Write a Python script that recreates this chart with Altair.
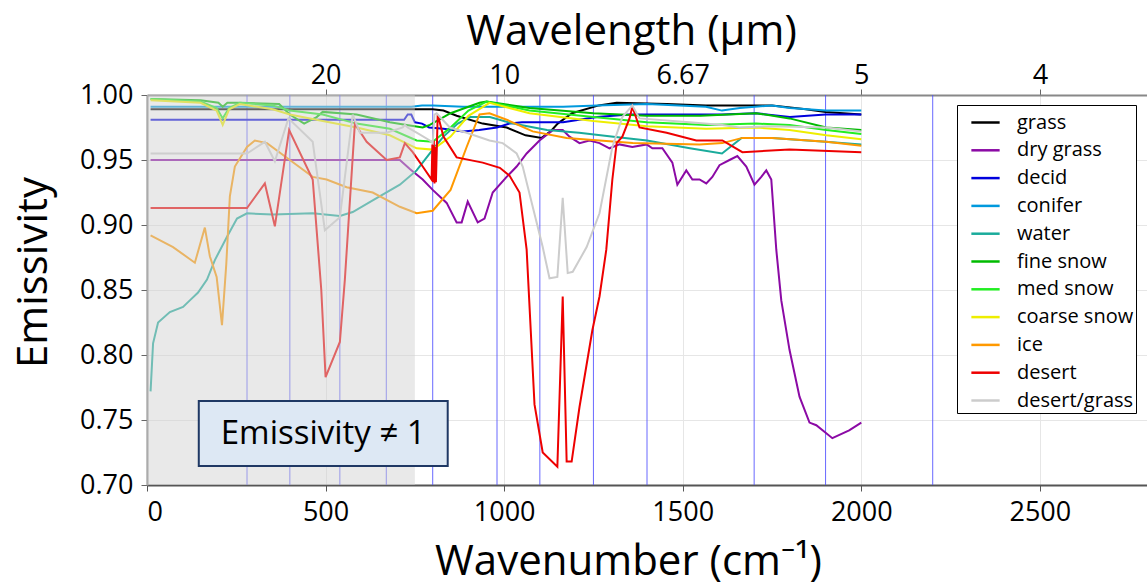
import altair as alt
import pandas as pd

FONT = "Open Sans"

names = ["grass", "dry grass", "decid", "conifer", "water", "fine snow",
         "med snow", "coarse snow", "ice", "desert", "desert/grass"]
colors = ["#000000", "#8B0AA5", "#0000DD", "#0099DD", "#1AAB9B", "#00BB00",
          "#22EE22", "#EEEE00", "#FF9900", "#EE0000", "#CCCCCC"]

grass_wn = [10, 700, 800, 830, 867, 940, 1007, 1060, 1105, 1130, 1150, 1190, 1265, 1315, 1455, 1565, 1690, 1750, 1845, 1900, 2000]
grass_em = [0.989, 0.989, 0.989, 0.988, 0.984, 0.978, 0.975, 0.969, 0.967, 0.972, 0.978, 0.986, 0.992, 0.994, 0.993, 0.992, 0.992, 0.992, 0.989, 0.987, 0.985]

dry_wn = [10, 708, 736, 772, 800, 839, 867, 881, 898, 926, 945, 968, 1007, 1035, 1063, 1099, 1136, 1164, 1183, 1211, 1239, 1267, 1295, 1323, 1359, 1399, 1415, 1443, 1471, 1485, 1510, 1527, 1547, 1566, 1583, 1603, 1631, 1653, 1678, 1701, 1720, 1734, 1748, 1762, 1776, 1799, 1827, 1855, 1874, 1919, 1966, 2000]
dry_em = [0.950, 0.950, 0.943, 0.935, 0.927, 0.917, 0.902, 0.902, 0.918, 0.902, 0.905, 0.925, 0.937, 0.945, 0.955, 0.965, 0.973, 0.973, 0.968, 0.963, 0.965, 0.963, 0.959, 0.962, 0.960, 0.962, 0.959, 0.959, 0.948, 0.931, 0.942, 0.935, 0.935, 0.932, 0.937, 0.946, 0.950, 0.953, 0.945, 0.931, 0.937, 0.942, 0.935, 0.881, 0.842, 0.804, 0.768, 0.748, 0.746, 0.736, 0.742, 0.748]

decid_wn = [10, 720, 730, 740, 750, 770, 790, 830, 885, 930, 980, 1015, 1050, 1100, 1165, 1210, 1260, 1350, 1500, 1610, 1705, 1800, 1900, 2000]
decid_em = [0.981, 0.981, 0.985, 0.985, 0.979, 0.978, 0.975, 0.974, 0.972, 0.973, 0.975, 0.978, 0.979, 0.979, 0.979, 0.981, 0.983, 0.985, 0.985, 0.985, 0.986, 0.983, 0.985, 0.985]

conifer_wn = [10, 740, 770, 800, 885, 1000, 1165, 1260, 1400, 1565, 1610, 1660, 1750, 1800, 1900, 2000]
conifer_em = [0.991, 0.991, 0.992, 0.992, 0.991, 0.991, 0.991, 0.992, 0.993, 0.991, 0.988, 0.990, 0.992, 0.990, 0.988, 0.988]

water_wn = [10, 17, 31, 64, 101, 120, 143, 168, 190, 224, 252, 280, 352, 464, 540, 576, 632, 708, 755, 800, 830, 870, 905, 960, 1025, 1120, 1210, 1300, 1400, 1520, 1610, 1665, 1750, 1900, 2000]
water_em = [0.772, 0.809, 0.825, 0.833, 0.837, 0.842, 0.848, 0.858, 0.873, 0.891, 0.905, 0.909, 0.908, 0.909, 0.907, 0.910, 0.919, 0.931, 0.942, 0.958, 0.968, 0.978, 0.983, 0.983, 0.978, 0.973, 0.971, 0.968, 0.965, 0.959, 0.955, 0.967, 0.967, 0.964, 0.962]

fine_wn = [10, 150, 200, 212, 225, 260, 370, 400, 440, 475, 492, 587, 680, 727, 772, 792, 850, 931, 951, 1071, 1250, 1399, 1550, 1706, 1799, 1902, 2000]
fine_em = [0.997, 0.996, 0.994, 0.991, 0.994, 0.994, 0.993, 0.985, 0.978, 0.983, 0.987, 0.985, 0.979, 0.977, 0.975, 0.977, 0.986, 0.994, 0.995, 0.990, 0.986, 0.984, 0.984, 0.986, 0.982, 0.975, 0.973]

med_wn = [10, 150, 195, 212, 230, 260, 352, 400, 492, 587, 680, 755, 800, 850, 900, 951, 1071, 1250, 1399, 1566, 1706, 1799, 1902, 2000]
med_em = [0.997, 0.995, 0.990, 0.982, 0.990, 0.994, 0.992, 0.988, 0.985, 0.978, 0.974, 0.965, 0.964, 0.975, 0.988, 0.995, 0.988, 0.983, 0.979, 0.977, 0.978, 0.977, 0.973, 0.970]

coarse_wn = [10, 150, 195, 212, 230, 260, 352, 400, 492, 587, 680, 755, 800, 850, 900, 959, 1071, 1250, 1399, 1566, 1706, 1799, 1902, 2000]
coarse_em = [0.996, 0.994, 0.988, 0.977, 0.989, 0.993, 0.989, 0.985, 0.980, 0.975, 0.969, 0.959, 0.958, 0.968, 0.984, 0.994, 0.986, 0.980, 0.976, 0.974, 0.975, 0.973, 0.969, 0.966]

ice_wn = [10, 73, 134, 162, 176, 195, 210, 222, 232, 246, 280, 302, 336, 400, 464, 503, 559, 632, 708, 755, 800, 850, 895, 931, 959, 1007, 1080, 1175, 1360, 1547, 1611, 1667, 1751, 1902, 2000]
ice_em = [0.892, 0.883, 0.871, 0.898, 0.876, 0.860, 0.823, 0.870, 0.922, 0.945, 0.960, 0.965, 0.963, 0.950, 0.937, 0.935, 0.929, 0.925, 0.914, 0.909, 0.911, 0.927, 0.960, 0.985, 0.986, 0.981, 0.972, 0.967, 0.963, 0.962, 0.963, 0.967, 0.967, 0.964, 0.961]

desert_wn = [10, 280, 330, 358, 398, 464, 488, 500, 540, 554, 582, 615, 671, 708, 722, 744, 772, 797, 799, 801, 803, 805, 807, 809, 814, 830, 867, 940, 988, 1015, 1043, 1063, 1085, 1108, 1149, 1164, 1175, 1189, 1211, 1247, 1267, 1286, 1303, 1315, 1331, 1351, 1359, 1379, 1455, 1538, 1611, 1667, 1799, 2000]
desert_em = [0.913, 0.913, 0.932, 0.899, 0.973, 0.935, 0.850, 0.783, 0.810, 0.858, 0.978, 0.964, 0.950, 0.952, 0.963, 0.956, 0.945, 0.935, 0.962, 0.933, 0.965, 0.932, 0.960, 0.933, 0.985, 0.968, 0.952, 0.948, 0.944, 0.938, 0.925, 0.881, 0.762, 0.725, 0.714, 0.845, 0.718, 0.718, 0.760, 0.819, 0.845, 0.881, 0.935, 0.963, 0.968, 0.982, 0.991, 0.975, 0.971, 0.965, 0.965, 0.956, 0.958, 0.956]

dg_wn = [10, 280, 330, 358, 396, 464, 498, 540, 576, 596, 671, 716, 722, 730, 755, 792, 800, 805, 811, 848, 895, 959, 996, 1035, 1052, 1080, 1108, 1127, 1149, 1164, 1178, 1192, 1231, 1267, 1303, 1331, 1359, 1379, 1519, 1611, 1659, 1751, 1902, 2000]
dg_em = [0.955, 0.955, 0.964, 0.949, 0.982, 0.964, 0.896, 0.906, 0.985, 0.971, 0.971, 0.975, 0.977, 0.975, 0.971, 0.965, 0.963, 0.985, 0.986, 0.975, 0.971, 0.965, 0.963, 0.955, 0.945, 0.914, 0.883, 0.859, 0.860, 0.921, 0.863, 0.864, 0.883, 0.909, 0.960, 0.983, 0.992, 0.982, 0.979, 0.977, 0.975, 0.976, 0.975, 0.972]

band_wn = [280, 400, 540, 670, 800, 980, 1100, 1250, 1400, 1700, 1900, 2200]
top_tick_wn = [500, 1000, 1500, 2000, 2500]
bottom_tick_wn = [0, 500, 1000, 1500, 2000, 2500]
y_ticks = [0.70, 0.75, 0.80, 0.85, 0.90, 0.95, 1.00]
shade_range = [0, 750]
note_box = {"x0": 145, "x1": 842, "y0": 0.7146, "y1": 0.7646}
note_text = "Emissivity \u2260 1"

series = [
    ("grass", grass_wn, grass_em), ("dry grass", dry_wn, dry_em),
    ("decid", decid_wn, decid_em), ("conifer", conifer_wn, conifer_em),
    ("water", water_wn, water_em), ("fine snow", fine_wn, fine_em),
    ("med snow", med_wn, med_em), ("coarse snow", coarse_wn, coarse_em),
    ("ice", ice_wn, ice_em), ("desert", desert_wn, desert_em),
    ("desert/grass", dg_wn, dg_em),
]
rows = []
for name, wn, em in series:
    for i, (w, e) in enumerate(zip(wn, em)):
        rows.append({"series": name, "wn": w, "em": e, "i": i})
df = pd.DataFrame(rows)

xscale = alt.Scale(domain=[0, 2800], nice=False, zero=False)
yscale = alt.Scale(domain=[0.70, 1.00], nice=False, zero=False)

y_axis = alt.Axis(
    values=y_ticks, format=".2f", title="Emissivity", titlePadding=24,
    titleY=177, labelPadding=8, domainColor="#888888", domainWidth=2,
    tickColor="#666666", tickSize=6, grid=True, gridColor="#e6e6e6")

rules = alt.Chart(pd.DataFrame({"wn": band_wn})).mark_rule(
    color="#4d4dff", strokeWidth=1, opacity=0.85
).encode(
    x=alt.X("wn:Q", scale=xscale, axis=alt.Axis(
        orient="top", values=top_tick_wn, grid=False,
        labelExpr="datum.value == 1500 ? '6.67' : format(10000 / datum.value, 'd')",
        title="Wavelength (\u00b5m)", titlePadding=8, labelPadding=0, titleX=484,
        domainColor="#888888", domainWidth=2, tickColor="#666666", tickSize=6))
)

lines = alt.Chart(df).mark_line(strokeWidth=2).encode(
    x=alt.X("wn:Q", scale=xscale, axis=alt.Axis(
        values=bottom_tick_wn, format="d", title="Wavenumber (cm\u207b\u00b9)",
        titlePadding=16, labelPadding=8, titleX=481, domainColor="#555555",
        domainWidth=2, tickColor="#555555", tickSize=6, grid=True,
        gridColor="#e6e6e6")),
    y=alt.Y("em:Q", scale=yscale, axis=y_axis),
    color=alt.Color("series:N", scale=alt.Scale(domain=names, range=colors),
                    legend=alt.Legend(
                        title=None, orient="none", legendX=810, legendY=10,
                        symbolType="stroke", symbolStrokeWidth=2.5, symbolSize=800,
                        symbolOffset=11, labelFontSize=20, labelFont=FONT,
                        labelOffset=16, padding=2, rowPadding=1.8,
                        fillColor="white", strokeColor="black",
                        labelColor="black")),
    order="i:Q",
)

shade = alt.Chart(pd.DataFrame({"x0": [shade_range[0]], "x1": [shade_range[1]]})).mark_rect(
    color="#d1d1d1", opacity=0.48
).encode(x=alt.X("x0:Q", scale=xscale, axis=None), x2="x1:Q")

box = alt.Chart(pd.DataFrame([note_box])).mark_rect(
    fill="#dde8f4", stroke="#1f3864", strokeWidth=2
).encode(
    x=alt.X("x0:Q", scale=xscale, axis=None), x2="x1:Q",
    y=alt.Y("y0:Q", scale=yscale, axis=y_axis), y2="y1:Q",
)

text = alt.Chart(pd.DataFrame({"x": [(note_box["x0"] + note_box["x1"]) / 2],
                               "y": [(note_box["y0"] + note_box["y1"]) / 2],
                               "t": [note_text]})).mark_text(
    font=FONT, fontSize=33, color="black", align="center", baseline="middle"
).encode(
    x=alt.X("x:Q", scale=xscale, axis=None),
    y=alt.Y("y:Q", scale=yscale, axis=y_axis),
    text="t:N",
)

chart = alt.layer(rules, lines, shade, box, text).resolve_scale(
    x="independent"
).properties(
    width=1000, height=390,
    autosize=alt.AutoSizeParams(type="none"),
    padding={"left": 147, "top": 95, "right": 0, "bottom": 101},
).configure_view(stroke=None).configure_axis(
    labelFont=FONT, titleFont=FONT, labelFontSize=27, titleFontSize=42,
    titleFontWeight="normal", labelColor="black", titleColor="black",
)

chart.save("out.html", embed_options={"renderer": "svg", "actions": False})
